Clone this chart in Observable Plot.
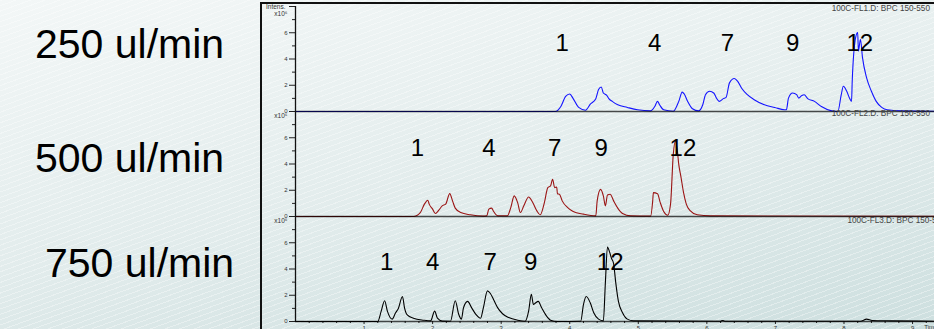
<!DOCTYPE html>
<html><head><meta charset="utf-8">
<script src="https://cdn.jsdelivr.net/npm/d3@7"></script>
<script src="https://cdn.jsdelivr.net/npm/@observablehq/plot@0.6"></script>
<style>
html,body{margin:0;padding:0;}
body{width:934px;height:329px;overflow:hidden;position:relative;font-family:"Liberation Sans",Arial,sans-serif;
background:
 repeating-linear-gradient(160deg, rgba(255,255,255,0.35) 0px, rgba(255,255,255,0.35) 1px, rgba(255,255,255,0) 1px, rgba(255,255,255,0) 5px),
 linear-gradient(170deg, #f3f7f7 0%, #e2ecec 55%, #cddfdf 100%);}
.rate{position:absolute;font-size:41px;line-height:41px;color:#000;white-space:nowrap;}
#chart{position:absolute;left:261px;top:3px;}
.fr{position:absolute;background:#111;}
</style></head>
<body>
<div class="rate" style="left:35px;top:24px">250 ul/min</div>
<div class="rate" style="left:35px;top:138px">500 ul/min</div>
<div class="rate" style="left:45px;top:243px">750 ul/min</div>
<div class="fr" style="left:261px;top:2px;width:673px;height:1.5px"></div>
<div class="fr" style="left:260px;top:2px;width:1.5px;height:327px"></div>
<div id="chart"></div>
<script>
// ---- data ----
const panels = ["FL1", "FL2", "FL3"];
const lineColors = ["#1414ff", "#9a1414", "#000000"];

// 250 ul/min (blue)
const t1 = [0, 3.79, 3.87, 3.94, 4.00, 4.05, 4.13, 4.23, 4.30, 4.38, 4.42, 4.46, 4.49, 4.54, 4.57, 4.62, 4.70, 4.84, 4.99, 5.18, 5.24, 5.28, 5.31, 5.37, 5.51, 5.59, 5.64, 5.67, 5.72, 5.79, 5.88, 5.94, 5.98, 6.04, 6.10, 6.14, 6.18, 6.24, 6.28, 6.33, 6.40, 6.45, 6.51, 6.59, 6.69, 6.84, 6.99, 7.13, 7.16, 7.19, 7.25, 7.31, 7.34, 7.38, 7.42, 7.47, 7.57, 7.67, 7.82, 7.91, 7.96, 7.99, 8.04, 8.08, 8.11, 8.12, 8.17, 8.20, 8.21, 8.24, 8.27, 8.33, 8.40, 8.47, 8.55, 8.63, 8.84, 9.32];
const v1 = [0, 0, 0.38, 1.15, 1.33, 0.98, 0.31, 0.10, 0.56, 0.98, 1.67, 1.87, 1.41, 1.23, 0.98, 0.77, 0.51, 0.31, 0.13, 0.05, 0.38, 0.77, 0.51, 0.13, 0.02, 0.77, 1.48, 1.33, 0.77, 0.21, 0.05, 0.51, 1.28, 1.54, 1.41, 1.02, 0.77, 0.98, 1.08, 2.18, 2.51, 2.30, 1.75, 1.28, 0.90, 0.51, 0.31, 0.13, 0.13, 1.02, 1.41, 1.28, 1.02, 1.20, 1.28, 0.98, 0.77, 0.38, 0.05, 0.00, 1.28, 1.92, 1.54, 1.02, 0.77, 2.30, 5.64, 6.02, 4.60, 5.51, 4.10, 2.56, 1.54, 0.77, 0.31, 0.13, 0.05, 0.02];

// 500 ul/min (dark red)
const t2 = [0, 1.72, 1.82, 1.88, 1.93, 1.95, 2.00, 2.04, 2.09, 2.14, 2.19, 2.25, 2.29, 2.33, 2.41, 2.55, 2.73, 2.79, 2.82, 2.86, 2.89, 2.95, 3.09, 3.14, 3.19, 3.24, 3.28, 3.33, 3.40, 3.46, 3.52, 3.57, 3.63, 3.68, 3.72, 3.75, 3.78, 3.81, 3.82, 3.85, 3.89, 3.97, 4.05, 4.20, 4.38, 4.40, 4.45, 4.49, 4.52, 4.55, 4.59, 4.64, 4.70, 4.77, 4.89, 5.18, 5.21, 5.22, 5.28, 5.32, 5.37, 5.43, 5.47, 5.51, 5.54, 5.57, 5.59, 5.62, 5.66, 5.70, 5.76, 5.86, 6.05, 9.32];
const v2 = [0, 0, 0.30, 0.94, 1.24, 0.94, 0.56, 0.23, 0.48, 0.81, 0.94, 1.74, 1.19, 0.64, 0.30, 0.13, 0.03, 0.05, 0.56, 0.64, 0.38, 0.05, 0.05, 0.68, 1.57, 1.06, 0.30, 0.81, 1.49, 1.06, 0.43, 0.13, 1.06, 2.20, 2.33, 2.83, 2.20, 2.25, 1.74, 1.70, 1.19, 0.68, 0.38, 0.18, 0.05, 1.19, 2.07, 1.57, 0.81, 1.64, 1.70, 1.19, 0.64, 0.23, 0.05, 0.03, 1.19, 1.82, 1.74, 1.06, 0.38, 0.10, 0.94, 4.73, 5.73, 4.98, 3.97, 3.08, 1.82, 0.94, 0.43, 0.13, 0.05, 0.02];

// 750 ul/min (black)
const t3 = [0, 1.20, 1.25, 1.30, 1.34, 1.41, 1.46, 1.50, 1.56, 1.59, 1.63, 1.72, 1.87, 1.97, 2.03, 2.07, 2.14, 2.26, 2.33, 2.38, 2.42, 2.45, 2.51, 2.57, 2.63, 2.70, 2.74, 2.80, 2.84, 2.89, 2.95, 3.02, 3.11, 3.24, 3.35, 3.40, 3.44, 3.47, 3.50, 3.54, 3.59, 3.65, 3.72, 3.82, 4.16, 4.20, 4.24, 4.30, 4.35, 4.42, 4.49, 4.52, 4.55, 4.58, 4.61, 4.64, 4.67, 4.71, 4.77, 4.84, 4.93, 6.20, 6.23, 6.26, 8.24, 8.33, 8.41, 8.68, 9.32];
const v3 = [0, 0, 0.79, 1.58, 0.79, 0.18, 0.67, 0.99, 1.90, 1.04, 0.50, 0.25, 0.10, 0.05, 0.79, 0.25, 0.03, 0.02, 1.58, 0.55, 0.18, 1.04, 1.53, 1.04, 0.55, 0.25, 1.04, 2.33, 2.15, 1.66, 1.04, 0.59, 0.30, 0.10, 0.02, 0.79, 2.07, 1.29, 1.41, 1.53, 1.04, 0.50, 0.10, 0.00, 0.02, 1.29, 1.90, 1.41, 0.67, 0.18, 0.05, 3.00, 5.68, 5.30, 4.80, 4.40, 3.00, 1.53, 0.67, 0.18, 0.05, 0.02, 0.08, 0.02, 0.02, 0.18, 0.08, 0.05, 0.02];

// peak labels
const peakNames = ["1", "4", "7", "9", "12"];
const peakTimes1 = [3.89, 5.24, 6.30, 7.25, 8.23];
const peakTimes2 = [1.78, 2.82, 3.78, 4.46, 5.65];
const peakTimes3 = [1.33, 2.00, 2.84, 3.43, 4.59];
const peakLevels = [5.2, 5.2, 4.5];

// file labels
const fileLabels = ["100C-FL1.D: BPC 150-550", "100C-FL2.D: BPC 150-550", "100C-FL3.D: BPC 150-550"];
const fileLabelTimes = [7.82, 7.82, 8.05];
const fileLabelLevels = [7.89, 7.84, 7.73];
const multLevels = [7.43, 7.66, 7.66];

// axis ticks
const yMajor = [0, 2, 4, 6];
const yTop = [8];
const yMinor = [1, 3, 5, 7];
const xMajor = [1, 2, 3, 4, 5, 6, 7, 8, 9];
const xMinor = [0.2, 0.4, 0.6, 0.8, 1.2, 1.4, 1.6, 1.8, 2.2, 2.4, 2.6, 2.8, 3.2, 3.4, 3.6, 3.8, 4.2, 4.4, 4.6, 4.8, 5.2, 5.4, 5.6, 5.8, 6.2, 6.4, 6.6, 6.8, 7.2, 7.4, 7.6, 7.8, 8.2, 8.4, 8.6, 8.8, 9.2];

// ---- build tables ----
const times = [t1, t2, t3], values = [v1, v2, v3];
const trace = panels.flatMap((p, i) => times[i].map((t, j) => ({panel: p, t, v: values[i][j], color: lineColors[i]})));
const peakTimes = [peakTimes1, peakTimes2, peakTimes3];
const peaks = panels.flatMap((p, i) => peakNames.map((n, j) => ({panel: p, name: n, t: peakTimes[i][j], y: peakLevels[i]})));
const files = panels.map((p, i) => ({panel: p, label: fileLabels[i], t: fileLabelTimes[i], y: fileLabelLevels[i]}));
const mults = panels.map((p, i) => ({panel: p, label: "x10⁶", y: multLevels[i]}));

const font = '"Liberation Sans", Arial, sans-serif';
const chart = Plot.plot({
  width: 673, height: 326,
  marginLeft: 34, marginRight: 0, marginTop: 3, marginBottom: 8,
  style: {background: "transparent", overflow: "visible", fontFamily: font},
  x: {domain: [0, 9.32], axis: null},
  y: {domain: [0, 8], axis: null},
  fy: {domain: panels, axis: null, padding: 0},
  color: {type: "identity"},
  marks: [
    Plot.axisY({ticks: yMajor, tickSize: 6, tickPadding: 2, fontSize: 6, label: null, fill: "#333", stroke: "#222"}),
    Plot.axisY({ticks: yTop, tickSize: 6, text: null, label: null, stroke: "#222"}),
    Plot.axisY({ticks: yMinor, tickSize: 3, text: null, label: null, stroke: "#222"}),
    Plot.axisX({ticks: xMajor, tickSize: 3, tickPadding: 1, fontSize: 6, label: null, fill: "#333", stroke: "#222"}),
    Plot.axisX({ticks: xMinor, tickSize: 2, text: null, label: null, stroke: "#222"}),
    Plot.text([{panel: "FL3", label: "Time [min]", t: 9.17}], {fy: "panel", x: "t", frameAnchor: "bottom", text: "label", textAnchor: "start", dy: 7, fontSize: 6, fill: "#333"}),
    Plot.line(trace, {fy: "panel", x: "t", y: "v", stroke: "color", strokeWidth: 1.1, curve: "monotone-x"}),
    Plot.ruleY([0], {stroke: "#000", strokeOpacity: 0.7, strokeWidth: 1.4}),
    Plot.ruleX([0], {stroke: "#111", strokeWidth: 1.3}),
    Plot.text(peaks, {fy: "panel", x: "t", y: "y", text: "name", fontSize: 24, fill: "#000"}),
    Plot.text(files, {fy: "panel", x: "t", y: "y", text: "label", textAnchor: "start", fontSize: 8.2, fill: "#444"}),
    Plot.text(mults, {fy: "panel", y: "y", frameAnchor: "left", text: "label", textAnchor: "end", dx: -8, fontSize: 6.5, fill: "#333"}),
    Plot.text([{panel: "FL1", label: "Intens.", y: 8}], {fy: "panel", y: "y", frameAnchor: "left", text: "label", textAnchor: "end", dx: -10, fontSize: 6.5, fill: "#333"})
  ]
});
document.getElementById("chart").appendChild(chart);
</script>
</body></html>
